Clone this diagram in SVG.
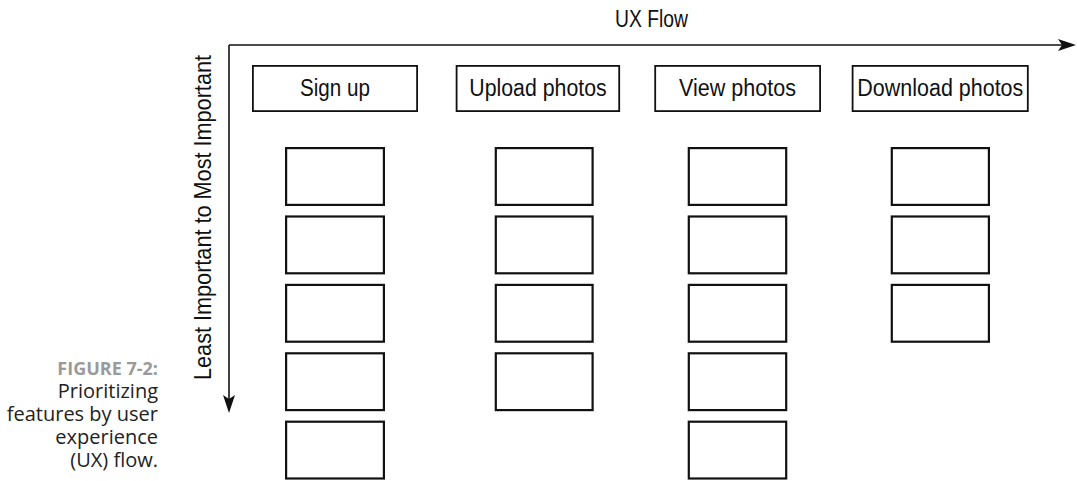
<svg xmlns="http://www.w3.org/2000/svg" width="1077" height="481" viewBox="0 0 1077 481">
<style>
.lbl{font-family:"Liberation Sans",Arial,sans-serif;font-size:23px;fill:#111}
.hdr{fill:#fff;stroke:#111;stroke-width:1.8}
.box{fill:#fff;stroke:#111;stroke-width:2.2}
.axis{stroke:#111;stroke-width:1.6;fill:none}
.cap{font-family:"Open Sans",sans-serif;font-size:20px;fill:#222;text-anchor:end}
.fig{font-weight:bold;font-size:18px;fill:#9a9a9a}
</style>
<defs>
<marker id="arr" viewBox="-13 -6 18 12" refX="0" refY="0" markerWidth="18" markerHeight="12" markerUnits="userSpaceOnUse" orient="auto">
<path d="M5,0 L-13,-6 L-9,0 L-13,6 Z" fill="#111"/>
</marker>
</defs>
<g id="connectors">
<path class="axis" d="M229,45 L1071,45" marker-end="url(#arr)"/>
<path class="axis" d="M229,45 L229,408" marker-end="url(#arr)"/>
</g>
<g id="axis-labels">
<text class="lbl" x="615" y="26.7" textLength="73" lengthAdjust="spacingAndGlyphs">UX Flow</text>
<text class="lbl" transform="translate(211,380) rotate(-90)" x="0" y="0" textLength="325" lengthAdjust="spacingAndGlyphs">Least Important to Most Important</text>
</g>
<g id="caption">
<text class="cap fig" x="158" y="375">FIGURE 7-2:</text>
<text class="cap" x="158" y="398">Prioritizing</text>
<text class="cap" x="158" y="421">features by user</text>
<text class="cap" x="158" y="444">experience</text>
<text class="cap" x="158" y="467">(UX) flow.</text>
</g>
<g id="col-signup">
<g id="hdr-signup"><rect class="hdr" x="252.9" y="65.9" width="164.2" height="45.2"/><text class="lbl" x="300" y="95.7" textLength="70" lengthAdjust="spacingAndGlyphs">Sign up</text></g>
<rect class="box" x="286.1" y="148.1" width="97.8" height="56.8"/>
<rect class="box" x="286.1" y="216.5" width="97.8" height="56.8"/>
<rect class="box" x="286.1" y="284.9" width="97.8" height="56.8"/>
<rect class="box" x="286.1" y="353.3" width="97.8" height="56.8"/>
<rect class="box" x="286.1" y="421.7" width="97.8" height="56.8"/>
</g>
<g id="col-upload">
<g id="hdr-upload"><rect class="hdr" x="456.6" y="65.9" width="162.6" height="45.2"/><text class="lbl" x="469.3" y="95.7" textLength="137.4" lengthAdjust="spacingAndGlyphs">Upload photos</text></g>
<rect class="box" x="495.8" y="148.1" width="96.8" height="56.8"/>
<rect class="box" x="495.8" y="216.5" width="96.8" height="56.8"/>
<rect class="box" x="495.8" y="284.9" width="96.8" height="56.8"/>
<rect class="box" x="495.8" y="353.3" width="96.8" height="56.8"/>
</g>
<g id="col-view">
<g id="hdr-view"><rect class="hdr" x="655.2" y="65.9" width="164.9" height="45.2"/><text class="lbl" x="679" y="95.7" textLength="117" lengthAdjust="spacingAndGlyphs">View photos</text></g>
<rect class="box" x="688.8" y="148.1" width="97.4" height="56.8"/>
<rect class="box" x="688.8" y="216.5" width="97.4" height="56.8"/>
<rect class="box" x="688.8" y="284.9" width="97.4" height="56.8"/>
<rect class="box" x="688.8" y="353.3" width="97.4" height="56.8"/>
<rect class="box" x="688.8" y="421.7" width="97.4" height="56.8"/>
</g>
<g id="col-download">
<g id="hdr-download"><rect class="hdr" x="852.6" y="65.9" width="175.2" height="45.2"/><text class="lbl" x="857.3" y="95.7" textLength="166" lengthAdjust="spacingAndGlyphs">Download photos</text></g>
<rect class="box" x="891.8" y="148.1" width="97.1" height="56.8"/>
<rect class="box" x="891.8" y="216.5" width="97.1" height="56.8"/>
<rect class="box" x="891.8" y="284.9" width="97.1" height="56.8"/>
</g>
</svg>
